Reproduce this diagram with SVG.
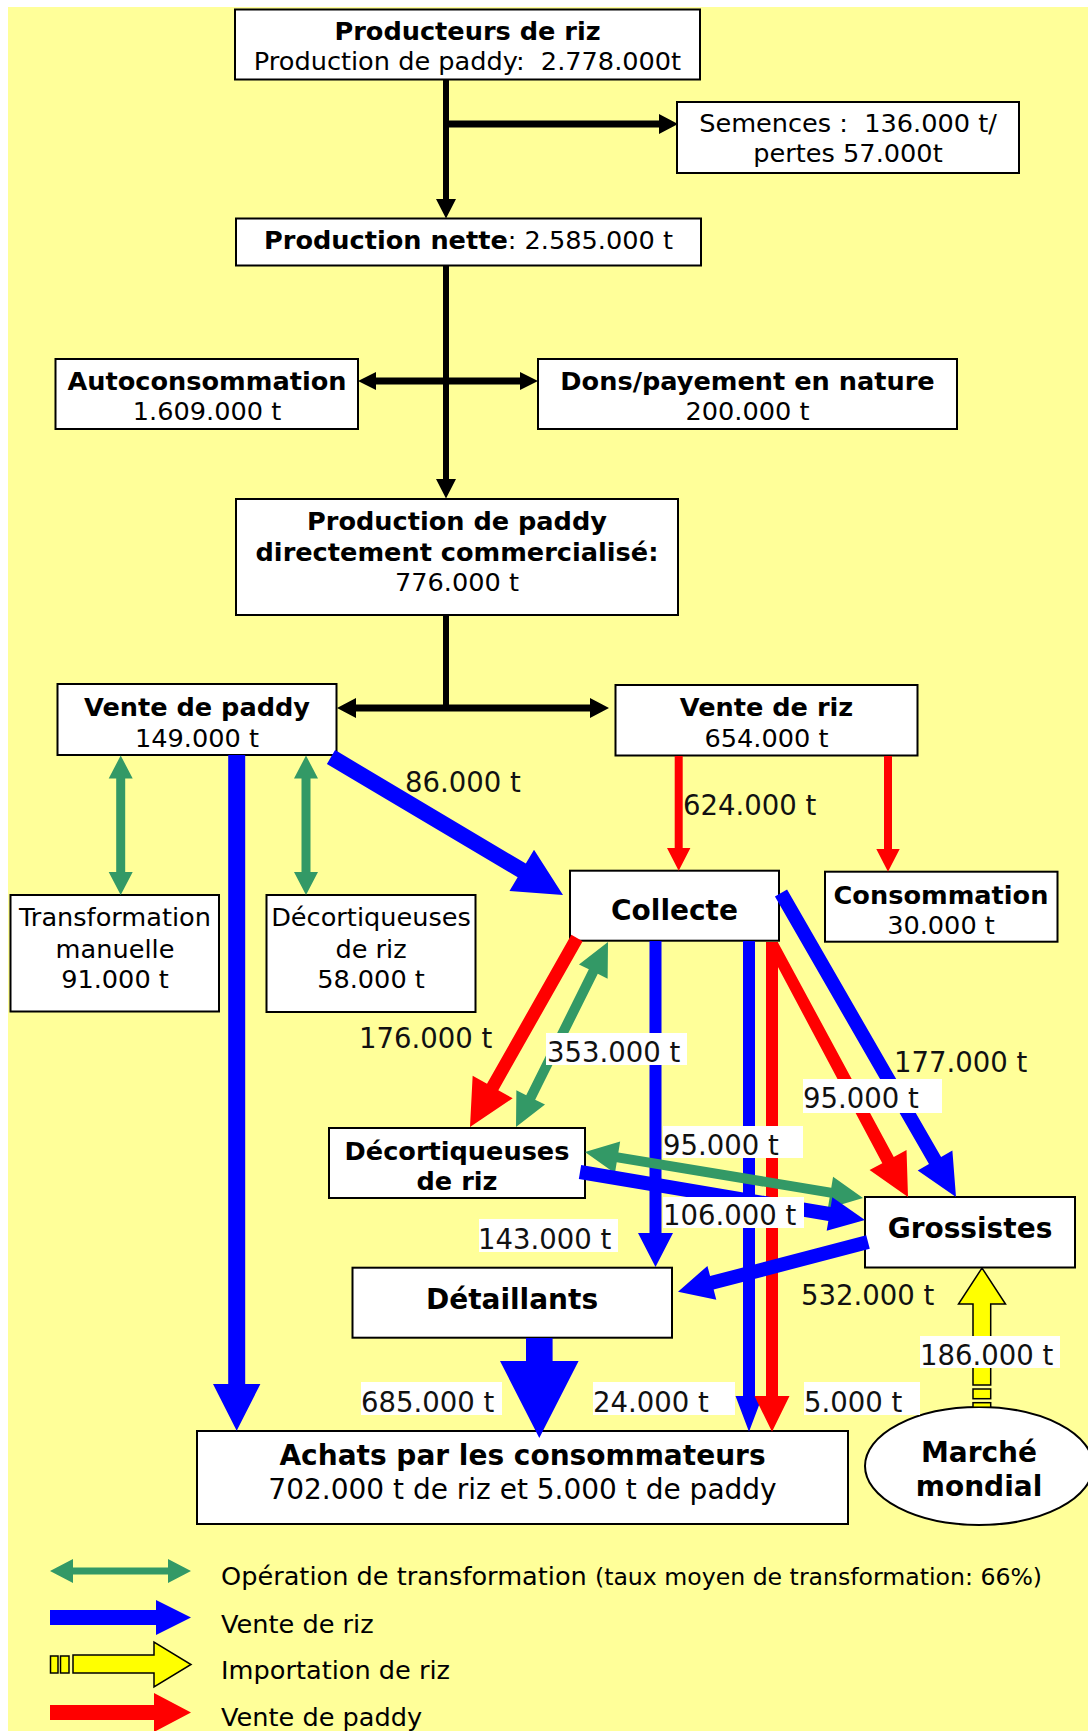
<svg xmlns="http://www.w3.org/2000/svg" width="1088" height="1731" viewBox="0 0 1088 1731">
<style>
.bg{fill:#ffff99}
.box{fill:#fff;stroke:#000;stroke-width:2}
text{font-family:"DejaVu Sans",Verdana,sans-serif;fill:#000}
.t{font-size:25.6px;text-anchor:middle}
.b{font-weight:bold}
.big{font-size:28px}
.lbl{font-size:27.5px;text-anchor:start;fill:#111}
.leg{font-size:25.6px;text-anchor:start}
.lbg{fill:#fff}
.bl{fill:#0000ff}
.rd{fill:#ff0000}
.gr{fill:#339966}
.bk{fill:#000}
.ye{fill:#ffff00;stroke:#000;stroke-width:1.5}
</style>
<rect class="bg" x="8" y="7" width="1080" height="1724"/>

<g id="nodes">
<g id="n-producteurs"><rect class="box" x="235" y="9.5" width="465" height="70"/>
<text class="t b" x="467.5" y="39.5">Producteurs de riz</text>
<text class="t" x="467.5" y="70" xml:space="preserve">Production de paddy:  2.778.000t</text></g>
<g id="n-semences"><rect class="box" x="677" y="102" width="342" height="71"/>
<text class="t" x="848" y="131.5" xml:space="preserve">Semences :  136.000 t/</text>
<text class="t" x="848" y="162">pertes 57.000t</text></g>
<g id="n-nette"><rect class="box" x="236" y="218.5" width="465" height="47"/>
<text class="t" x="468.5" y="248.5"><tspan class="b">Production nette</tspan>: 2.585.000 t</text></g>
<g id="n-auto"><rect class="box" x="55.5" y="359" width="302.5" height="70"/>
<text class="t b" x="207" y="389.5">Autoconsommation</text>
<text class="t" x="207" y="419.5">1.609.000 t</text></g>
<g id="n-dons"><rect class="box" x="538" y="359" width="419" height="70"/>
<text class="t b" x="747.5" y="389.5">Dons/payement en nature</text>
<text class="t" x="747.5" y="419.5">200.000 t</text></g>
<g id="n-commercialise"><rect class="box" x="236" y="499" width="442" height="116"/>
<text class="t b" x="457" y="529.5">Production de paddy</text>
<text class="t b" x="457" y="561">directement commercialisé:</text>
<text class="t" x="457" y="591">776.000 t</text></g>
<g id="n-vente-paddy"><rect class="box" x="57.5" y="684" width="279" height="71"/>
<text class="t b" x="197" y="716">Vente de paddy</text>
<text class="t" x="197" y="747">149.000 t</text></g>
<g id="n-vente-riz"><rect class="box" x="615.5" y="685" width="302" height="70.5"/>
<text class="t b" x="766.5" y="716">Vente de riz</text>
<text class="t" x="766.5" y="747">654.000 t</text></g>
<g id="n-transformation"><rect class="box" x="10.5" y="895" width="208.5" height="116.5"/>
<text class="t" x="115" y="926">Transformation</text>
<text class="t" x="115" y="957.5">manuelle</text>
<text class="t" x="115" y="988">91.000 t</text></g>
<g id="n-decort1"><rect class="box" x="266.5" y="895" width="209" height="117"/>
<text class="t" x="371" y="926">Décortiqueuses</text>
<text class="t" x="371" y="957.5">de riz</text>
<text class="t" x="371" y="988">58.000 t</text></g>
<g id="n-collecte"><rect class="box" x="570" y="870.7" width="209" height="70"/>
<text class="t b big" x="674.5" y="919.5">Collecte</text></g>
<g id="n-consommation"><rect class="box" x="825" y="871.7" width="232.5" height="70"/>
<text class="t b" x="941" y="903.5">Consommation</text>
<text class="t" x="941" y="933.5">30.000 t</text></g>
<g id="n-decort2"><rect class="box" x="329" y="1128" width="256" height="70"/>
<text class="t b" x="457" y="1159.5">Décortiqueuses</text>
<text class="t b" x="457" y="1189.5">de riz</text></g>
<g id="n-grossistes"><rect class="box" x="865" y="1197" width="210" height="70.5"/>
<text class="t b big" x="970" y="1238">Grossistes</text></g>
<g id="n-detaillants"><rect class="box" x="352.5" y="1267.7" width="319.5" height="70"/>
<text class="t b big" x="512" y="1308.5">Détaillants</text></g>
<g id="n-achats"><rect class="box" x="197" y="1431" width="651" height="93"/>
<text class="t b big" x="522.5" y="1465">Achats par les consommateurs</text>
<text class="t big" x="522.5" y="1499">702.000 t de riz et 5.000 t de paddy</text></g>
<g id="n-marche"><ellipse class="box" cx="979" cy="1466" rx="114" ry="59"/>
<text class="t b big" x="979" y="1462">Marché</text>
<text class="t b big" x="979" y="1496">mondial</text></g>
</g>

<g id="connectors">
<polygon class="bk" points="443,79 449,79 449,199 456,199 446,218.5 436,199 443,199"/>
<polygon class="bk" points="446,120.5 659,120.5 659,114 678,124 659,134 659,127.5 446,127.5"/>
<polygon class="bk" points="443,265.5 449,265.5 449,479 456,479 446,498.5 436,479 443,479"/>
<polygon class="bk" points="358,381 376,372 376,377.5 520,377.5 520,372 538,381 520,390 520,384.5 376,384.5 376,390"/>
<rect class="bk" x="443" y="615" width="6" height="96"/>
<polygon class="bk" points="337,708 356,698 356,704.5 590,704.5 590,698 609,708 590,718 590,711.5 356,711.5 356,718"/>
<polygon class="rd" points="674.7,756 682.7,756 682.7,848 690.4,848 678.7,870.7 667,848 674.7,848"/>
<polygon class="rd" points="884,756 892,756 892,849 899.7,849 888,871.7 876.3,849 884,849"/>
<polygon class="gr" points="120.7,755.5 132.7,778.5 125.2,778.5 125.2,872 132.7,872 120.7,895 108.7,872 116.2,872 116.2,778.5 108.7,778.5"/>
<polygon class="gr" points="306,755.5 318,778.5 310.5,778.5 310.5,872 318,872 306,895 294,872 301.5,872 301.5,778.5 294,778.5"/>
<polygon class="bl" points="228.2,755 245.2,755 245.2,1384 260.4,1384 236.7,1430.7 213,1384 228.2,1384"/>
<polygon class="bl" points="326.91,763.88 517.65,877.34 509.47,891.09 563,895 534.01,849.83 525.83,863.58 335.09,750.12"/>
<polygon class="rd" points="571.34,934.8 487,1083.77 472.65,1075.64 470,1127 512.67,1098.3 498.32,1090.17 582.66,941.2"/>
<polygon class="gr" points="516,1127 545.02,1104.58 535.17,1099.68 597.79,973.78 607.64,978.68 608,942 578.98,964.43 588.83,969.32 526.21,1095.22 516.36,1090.33"/>
<polygon class="bl" points="649.5,941 661.5,941 661.5,1233 673,1233 655.5,1267 638,1233 649.5,1233"/>
<polygon class="bl" points="743,941 755,941 755,1396 762.5,1396 749,1431.7 735.5,1396 743,1396"/>
<polygon class="rd" points="766,942 778,942 778,1396 789.5,1396 772,1431.7 754.5,1396 766,1396"/>
<polygon class="bl" points="774.93,896.49 928.98,1164.09 917.72,1170.58 956,1197 952.38,1150.62 941.12,1157.11 787.07,889.51"/>
<polygon class="rd" points="766.28,945.09 882.33,1163.13 869.57,1170.01 908,1197 906.53,1150.07 893.77,1156.95 777.72,941.91"/>
<polygon class="gr" points="585,1152 614.94,1173.17 616.73,1162.32 829.63,1197.54 827.84,1208.39 863,1198 833.06,1176.83 831.27,1187.68 618.37,1152.46 620.16,1141.61"/>
<polygon class="bl" points="578.84,1178.9 828.34,1220.92 826.68,1230.78 865,1220 832.32,1197.26 830.66,1207.12 581.16,1165.1"/>
<polygon class="bl" points="866.23,1235.23 710.09,1276.07 707.43,1265.91 678,1291.7 716.29,1299.77 713.63,1289.61 869.77,1248.77"/>
<polygon class="bl" points="526,1338 552.6,1338 552.6,1361 578.6,1361 539.3,1438 500,1361 526,1361"/>
<polygon class="ye" points="973,1385 973,1304 958.5,1304 982,1268 1005.5,1304 990.7,1304 990.7,1385"/>
<rect class="ye" x="973" y="1389" width="17.7" height="9.7"/>
<rect class="ye" x="973" y="1402.7" width="17.7" height="4.5"/>
</g>

<g id="labels">
<text class="lbl" x="405" y="792">86.000 t</text>
<text class="lbl" x="683" y="815">624.000 t</text>
<text class="lbl" x="359" y="1048">176.000 t</text>
<rect class="lbg" x="546" y="1033" width="141" height="32"/>
<text class="lbl" x="547" y="1062">353.000 t</text>
<text class="lbl" x="894" y="1072">177.000 t</text>
<rect class="lbg" x="803" y="1079" width="139" height="34"/>
<text class="lbl" x="803" y="1108">95.000 t</text>
<rect class="lbg" x="663" y="1126" width="140" height="32"/>
<text class="lbl" x="663" y="1155">95.000 t</text>
<rect class="lbg" x="663" y="1197" width="141" height="31"/>
<text class="lbl" x="663" y="1225">106.000 t</text>
<rect class="lbg" x="479" y="1219" width="139" height="33"/>
<text class="lbl" x="478" y="1249">143.000 t</text>
<text class="lbl" x="801" y="1305">532.000 t</text>
<rect class="lbg" x="920" y="1336" width="140" height="32"/>
<text class="lbl" x="920" y="1365">186.000 t</text>
<rect class="lbg" x="361" y="1382" width="141" height="33"/>
<text class="lbl" x="361" y="1412">685.000 t</text>
<rect class="lbg" x="593" y="1382" width="142" height="33"/>
<text class="lbl" x="593" y="1412">24.000 t</text>
<rect class="lbg" x="804" y="1382" width="116" height="33"/>
<text class="lbl" x="804" y="1412">5.000 t</text>
</g>

<g id="legend">
<polygon class="gr" points="50,1571 73,1559 73,1567.5 168,1567.5 168,1559 191,1571 168,1583 168,1574.5 73,1574.5 73,1583"/>
<text class="leg" x="221" y="1585">Opération de transformation <tspan font-size="23.6px">(taux moyen de transformation: 66%)</tspan></text>
<polygon class="bl" points="50,1610 156,1610 156,1600 191,1617.5 156,1635 156,1625 50,1625"/>
<text class="leg" x="221" y="1633">Vente de riz</text>
<rect class="ye" x="50.5" y="1656" width="7.5" height="17"/>
<rect class="ye" x="60.5" y="1656" width="8.5" height="17"/>
<polygon class="ye" points="73,1655 154,1655 154,1642 191,1664.5 154,1687 154,1673 73,1673"/>
<text class="leg" x="221" y="1679">Importation de riz</text>
<polygon class="rd" points="50,1705 154,1705 154,1693 191,1712.5 154,1732 154,1720 50,1720"/>
<text class="leg" x="221" y="1726">Vente de paddy</text>
</g>
</svg>
